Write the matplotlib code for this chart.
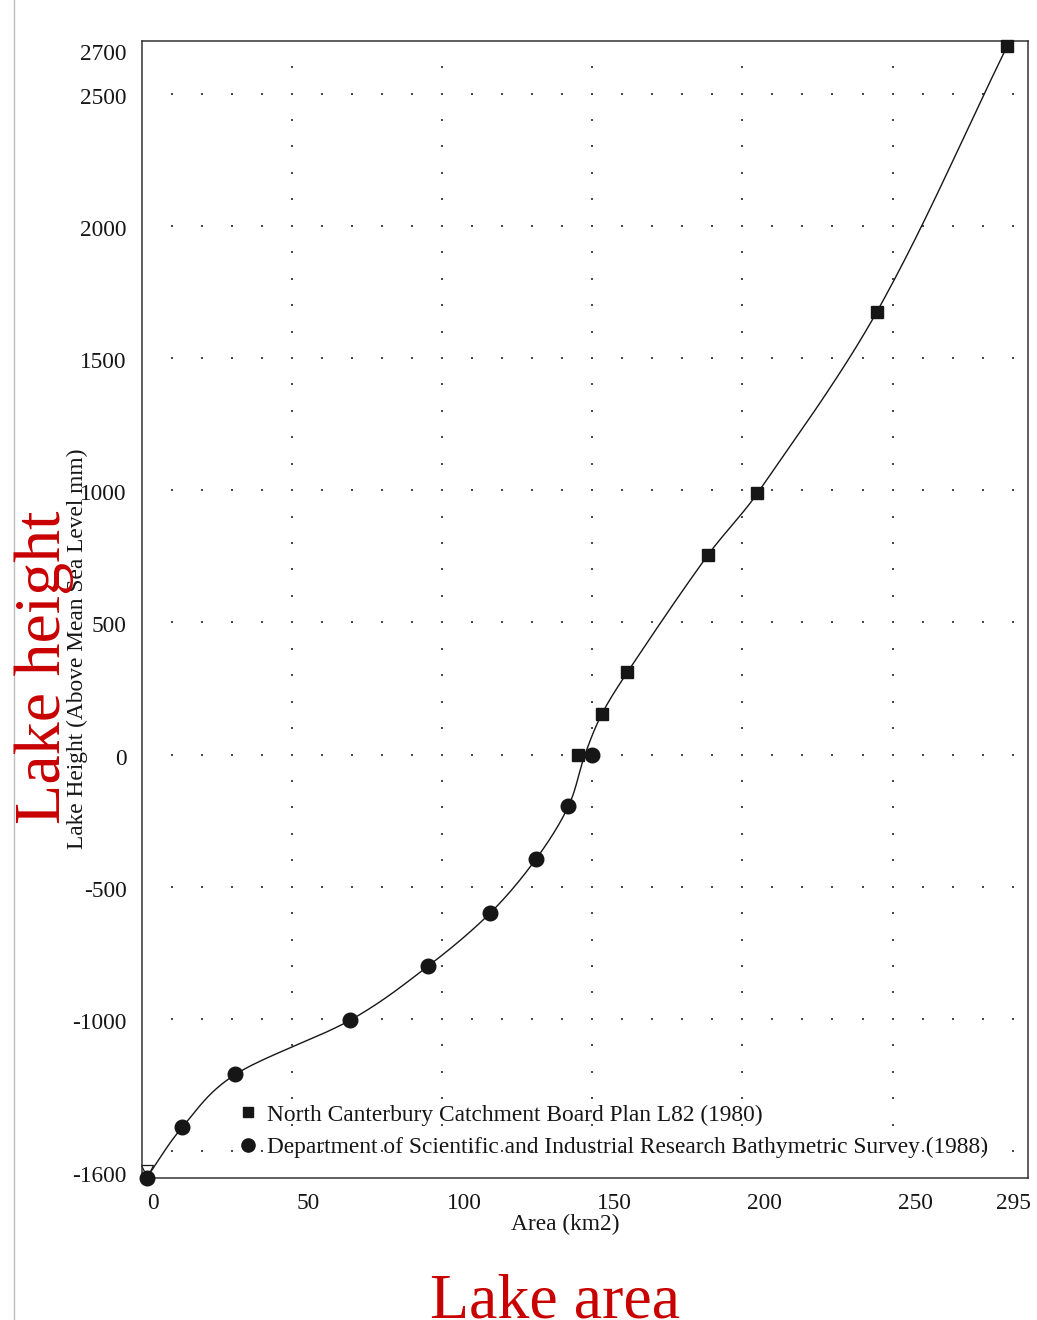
import numpy as np
import matplotlib
matplotlib.use("Agg")
import matplotlib.pyplot as plt
from matplotlib.lines import Line2D
from matplotlib.transforms import ScaledTranslation

plt.rcParams["font.family"] = ["Liberation Serif", "DejaVu Serif"]

# North Canterbury Catchment Board Plan L82 (1980)
ncb_area = [145.4, 153.2, 161.7, 188.5, 205.0, 244.8, 288.2]
ncb_height = [0, 153, 311, 754, 988, 1675, 2680]

# DSIR bathymetric survey (1988)
dsir_area = [1.7, 13.5, 31.2, 69.4, 95.4, 116.0, 131.3, 142.1, 149.8]
dsir_height = [-1600, -1410, -1210, -1005, -800, -600, -395, -195, 0]

x_ticks = [0, 50, 100, 150, 200, 250, 295]
y_ticks = [-1600, -1000, -500, 0, 500, 1000, 1500, 2000, 2500, 2700]

INK = "#161616"
RED = "#c80000"
FS = 16.8


def smooth_through(xs, ys, n=40):
    """Cubic Hermite curve x(y) through the points (y must be increasing)."""
    xs = np.asarray(xs, float)
    ys = np.asarray(ys, float)
    m = np.empty_like(xs)
    m[1:-1] = (xs[2:] - xs[:-2]) / (ys[2:] - ys[:-2])
    m[0] = (xs[1] - xs[0]) / (ys[1] - ys[0])
    m[-1] = (xs[-1] - xs[-2]) / (ys[-1] - ys[-2])
    cx, cy = [], []
    for i in range(len(xs) - 1):
        h = ys[i + 1] - ys[i]
        t = np.linspace(0, 1, n, endpoint=False)
        h00 = 2 * t**3 - 3 * t**2 + 1
        h10 = t**3 - 2 * t**2 + t
        h01 = -2 * t**3 + 3 * t**2
        h11 = t**3 - t**2
        cx.append(h00 * xs[i] + h10 * h * m[i] + h01 * xs[i + 1] + h11 * h * m[i + 1])
        cy.append(ys[i] + t * h)
    cx.append([xs[-1]])
    cy.append([ys[-1]])
    return np.concatenate(cx), np.concatenate(cy)


# merge both surveys into one height-ordered profile; the two zero readings are averaged
pts = {}
for a, h in list(zip(dsir_area, dsir_height)) + list(zip(ncb_area, ncb_height)):
    pts.setdefault(h, []).append(a)
prof_h = sorted(pts)
prof_a = [np.mean(pts[h]) for h in prof_h]
curve_a, curve_h = smooth_through(prof_a, prof_h)

fig = plt.figure(figsize=(10.37, 13.2), dpi=100)
ax = fig.add_axes([141.7 / 1037, 1 - 1177.5 / 1320, 886 / 1037, 1136.8 / 1320])
ax.set_xlim(0, 295)
ax.set_ylim(-1600, 2700)

# sparse dotted grid
gx = np.arange(10, 291, 10)
for gy in range(-1500, 2501, 500):
    ax.scatter(gx, np.full(gx.shape, gy), s=2.4, marker="s", color="#4a4a4a", lw=0, zorder=1)
gy = np.arange(-1500, 2601, 100)
for xv in range(50, 251, 50):
    ax.scatter(np.full(gy.shape, xv), gy, s=2.4, marker="s", color="#4a4a4a", lw=0, zorder=1)

ax.plot(curve_a, curve_h, color=INK, lw=1.0, zorder=2)
ax.plot(ncb_area, ncb_height, ls="none", marker="s", ms=8.5, color=INK, zorder=3, clip_on=False)
ax.plot(dsir_area, dsir_height, ls="none", marker="o", ms=10.5, color=INK, zorder=3, clip_on=False)
ax.plot([dsir_area[0]], [dsir_height[0] + 25], ls="none", marker="v", ms=9, mfc="white",
        mec=INK, mew=0.9, zorder=2.5, clip_on=False)

for s in ax.spines.values():
    s.set_color("#333")
    s.set_linewidth(1.1)
ax.tick_params(length=0, labelsize=FS, labelcolor=INK)
ax.tick_params(axis="x", pad=11)
ax.tick_params(axis="y", pad=11)

ax.set_xticks(x_ticks)
ax.set_xticklabels([str(v) for v in x_ticks])
for i, lab in enumerate(ax.get_xticklabels()):
    if i == len(x_ticks) - 1:
        lab.set_ha("right")
        lab.set_transform(lab.get_transform() + ScaledTranslation(3 / 100, 0, fig.dpi_scale_trans))
    else:
        lab.set_ha("left")
        lab.set_transform(lab.get_transform() + ScaledTranslation(5 / 100, 0, fig.dpi_scale_trans))

ax.set_yticks(y_ticks)
ax.set_yticklabels([str(v) for v in y_ticks])
for v, lab in zip(y_ticks, ax.get_yticklabels()):
    if v == 2700:
        lab.set_va("top")
        lab.set_transform(lab.get_transform() + ScaledTranslation(0, -3 / 100, fig.dpi_scale_trans))
    elif v == -1600:
        lab.set_transform(lab.get_transform() + ScaledTranslation(0, 4 / 100, fig.dpi_scale_trans))
    else:
        lab.set_transform(lab.get_transform() + ScaledTranslation(0, -2 / 100, fig.dpi_scale_trans))

ax.set_xlabel("Area (km2)", fontsize=FS, color=INK)
ax.xaxis.set_label_coords(0.478, -0.0415)
ax.xaxis.label.set_va("center")
ax.set_ylabel("Lake Height (Above Mean Sea Level mm)", fontsize=FS, color=INK)
ax.yaxis.set_label_coords(-0.073, 0.465)
ax.yaxis.label.set_va("center")

handles = [
    Line2D([], [], ls="none", marker="s", ms=7, color=INK),
    Line2D([], [], ls="none", marker="o", ms=9.5, color=INK),
]
labels = [
    "North Canterbury Catchment Board Plan L82 (1980)",
    "Department of Scientific and Industrial Research Bathymetric Survey (1988)",
]
ax.legend(handles, labels, loc="lower left", bbox_to_anchor=(0.111, 0.017), frameon=False,
          fontsize=FS, handlelength=0.7, handletextpad=0.45, labelspacing=0.48,
          borderpad=0, borderaxespad=0, labelcolor=INK)

# annotations in red
fig.text(44 / 1037, 1 - 667 / 1320, "Lake height", rotation=90, color=RED, fontsize=47.5,
         ha="center", va="center")
fig.text(555 / 1037, 1 - 1317 / 1320, "Lake area", color=RED, fontsize=46,
         ha="center", va="baseline")

fig.add_artist(Line2D([14 / 1037, 14 / 1037], [0, 1], transform=fig.transFigure,
                      color="#bdbdbd", lw=1.0))

fig.savefig("out.png", dpi=100)
